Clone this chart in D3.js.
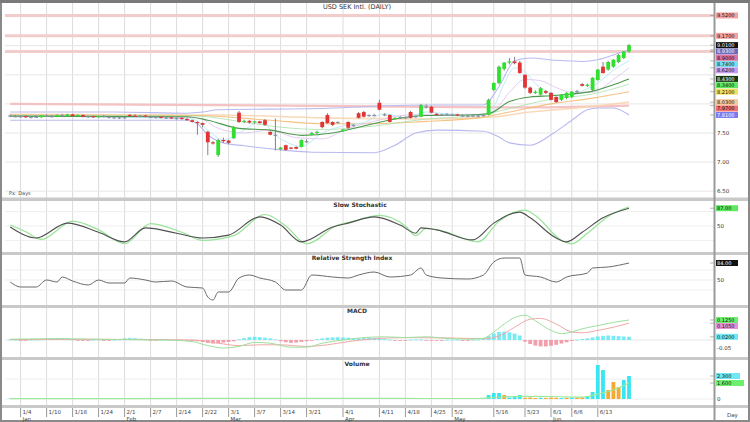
<!DOCTYPE html>
<html><head><meta charset="utf-8">
<script src="https://cdn.jsdelivr.net/npm/d3@7"></script>
<style>body{margin:0;background:#fff}svg{display:block;font-family:"DejaVu Sans",sans-serif}</style>
</head><body><svg id="c" width="750" height="422"></svg>
<script>
// ---------------- DATA ----------------
const title = "USD SEK Intl. (DAILY)";
// [open, high, low, close] per trading day
const ohlc = [
[7.80,7.82,7.77,7.79],[7.79,7.81,7.77,7.78],[7.78,7.80,7.76,7.79],[7.79,7.80,7.76,7.77],[7.77,7.79,7.75,7.78],
[7.78,7.80,7.76,7.77],[7.77,7.81,7.76,7.80],[7.80,7.82,7.78,7.79],[7.79,7.81,7.77,7.78],[7.78,7.82,7.77,7.81],
[7.81,7.83,7.79,7.80],[7.79,7.83,7.78,7.82],[7.82,7.83,7.78,7.79],[7.79,7.82,7.78,7.81],[7.81,7.82,7.77,7.78],
[7.78,7.80,7.76,7.79],[7.79,7.80,7.76,7.77],[7.77,7.80,7.76,7.79],[7.79,7.81,7.77,7.78],[7.78,7.79,7.75,7.77],
[7.77,7.79,7.75,7.76],[7.76,7.78,7.74,7.77],[7.77,7.78,7.75,7.76],[7.81,7.83,7.78,7.79],[7.80,7.82,7.78,7.78],
[7.79,7.81,7.77,7.80],[7.80,7.81,7.77,7.78],[7.78,7.80,7.76,7.77],[7.77,7.79,7.75,7.78],[7.78,7.79,7.75,7.76],
[7.76,7.78,7.74,7.77],[7.77,7.78,7.74,7.75],[7.75,7.77,7.73,7.76],[7.76,7.77,7.73,7.74],[7.74,7.76,7.71,7.72],
[7.72,7.73,7.68,7.69],[7.69,7.70,7.47,7.67],[7.67,7.68,7.60,7.64],[7.52,7.54,7.12,7.34],[7.34,7.36,7.30,7.32],
[7.12,7.40,7.09,7.38],[7.38,7.42,7.33,7.36],[7.37,7.38,7.31,7.33],[7.41,7.62,7.40,7.60],[7.85,7.88,7.67,7.69],
[7.69,7.73,7.67,7.71],[7.71,7.72,7.66,7.68],[7.68,7.71,7.66,7.70],[7.70,7.71,7.66,7.67],[7.72,7.74,7.62,7.64],
[7.52,7.53,7.46,7.47],[7.47,7.75,7.20,7.46],[7.22,7.26,7.20,7.25],[7.29,7.30,7.19,7.21],[7.25,7.26,7.22,7.23],
[7.26,7.27,7.22,7.23],[7.26,7.39,7.25,7.38],[7.36,7.39,7.33,7.35],[7.47,7.52,7.46,7.50],[7.50,7.54,7.48,7.52],
[7.69,7.70,7.58,7.60],[7.81,7.84,7.66,7.67],[7.69,7.70,7.62,7.64],[7.68,7.70,7.66,7.69],[7.53,7.57,7.52,7.56],
[7.69,7.70,7.57,7.59],[7.63,7.65,7.61,7.64],[7.84,7.86,7.75,7.76],[7.86,7.88,7.77,7.78],[7.80,7.82,7.78,7.81],
[7.81,7.83,7.79,7.80],[8.02,8.07,7.89,7.90],[7.82,7.84,7.79,7.81],[7.81,7.82,7.68,7.69],[7.74,7.77,7.73,7.76],
[7.77,7.79,7.75,7.76],[7.76,7.78,7.74,7.77],[7.86,7.88,7.75,7.76],[7.78,7.80,7.76,7.79],[7.78,8.00,7.77,7.98],
[7.96,7.99,7.92,7.95],[7.95,7.97,7.84,7.85],[7.83,7.84,7.80,7.81],[7.81,7.83,7.79,7.82],[7.82,7.84,7.80,7.81],
[7.81,7.83,7.79,7.82],[7.82,7.83,7.79,7.80],[7.80,7.82,7.78,7.79],[7.79,7.81,7.77,7.80],[7.80,7.82,7.78,7.79],
[7.79,7.81,7.77,7.80],[7.80,7.82,7.78,7.81],[7.81,8.09,7.80,8.07],[8.24,8.37,8.22,8.36],[8.36,8.66,8.34,8.64],
[8.60,8.72,8.57,8.71],[8.71,8.79,8.68,8.73],[8.73,8.81,8.68,8.70],[8.71,8.74,8.52,8.53],[8.50,8.51,8.26,8.28],
[8.28,8.30,8.17,8.19],[8.19,8.23,8.17,8.21],[8.16,8.29,8.14,8.27],[8.22,8.24,8.17,8.19],[8.19,8.20,8.06,8.07],
[8.12,8.13,8.02,8.03],[8.07,8.17,8.05,8.16],[8.10,8.20,8.08,8.19],[8.12,8.22,8.10,8.21],[8.21,8.24,8.19,8.22],
[8.34,8.36,8.30,8.31],[8.31,8.35,8.29,8.33],[8.24,8.46,8.22,8.45],[8.41,8.60,8.40,8.59],[8.64,8.72,8.52,8.53],
[8.59,8.74,8.57,8.72],[8.64,8.77,8.62,8.76],[8.72,8.86,8.70,8.84],[8.79,8.91,8.77,8.90],[8.90,9.03,8.88,9.01]
];
const resistance = [9.52, 9.17, 8.90];
// indicator readings [day index, value]
const bbUpper = [[0,7.86],[20,7.86],[34,7.84],[37,7.86],[40,7.90],[50,7.91],[60,7.92],[70,7.96],[80,7.98],[91,7.98],[94,8.30],[97,8.74],[100,8.79],[105,8.75],[110,8.73],[113,8.76],[116,8.84],[119,8.93]];
const bbLower = [[0,7.72],[34,7.72],[36,7.66],[38,7.47],[41,7.33],[45,7.28],[52,7.21],[58,7.17],[70,7.16],[74,7.29],[78,7.50],[82,7.55],[91,7.53],[94,7.43],[96,7.33],[100,7.29],[104,7.47],[108,7.72],[111,7.90],[113,7.93],[116,7.93],[119,7.81]];
const maFast = [[0,7.79],[35,7.74],[38,7.55],[41,7.38],[44,7.50],[48,7.68],[52,7.40],[56,7.27],[60,7.50],[64,7.62],[68,7.68],[72,7.83],[76,7.76],[80,7.86],[84,7.83],[91,7.80],[93,7.95],[95,8.35],[97,8.62],[99,8.55],[101,8.35],[104,8.18],[107,8.12],[110,8.22],[113,8.36],[116,8.58],[119,8.74]];
const ma10 = [[0,7.79],[36,7.76],[40,7.58],[45,7.50],[50,7.55],[55,7.42],[60,7.40],[65,7.58],[70,7.70],[75,7.80],[80,7.82],[90,7.82],[93,7.88],[96,8.20],[99,8.42],[102,8.40],[105,8.28],[108,8.20],[112,8.20],[116,8.42],[119,8.62]];
const ma20 = [[0,7.79],[34,7.78],[38,7.72],[44,7.58],[50,7.55],[56,7.46],[62,7.50],[68,7.62],[74,7.74],[80,7.80],[88,7.81],[92,7.83],[96,8.04],[100,8.12],[104,8.14],[108,8.17],[112,8.22],[116,8.33],[119,8.43]];
const ma30 = [[0,7.80],[36,7.79],[44,7.70],[52,7.60],[60,7.56],[70,7.62],[80,7.74],[90,7.80],[96,7.92],[104,8.08],[112,8.17],[119,8.34]];
const ma50 = [[0,7.81],[36,7.80],[50,7.72],[60,7.66],[70,7.66],[80,7.70],[90,7.76],[96,7.86],[104,8.00],[112,8.10],[119,8.21]];
const ma100 = [[0,7.82],[40,7.81],[60,7.76],[80,7.74],[92,7.77],[100,7.86],[110,7.94],[119,8.03]];
const ma200 = [[0,8.00],[40,7.98],[80,7.95],[100,7.94],[119,7.97]];
const stochK = [[0,48],[5,25],[11,56],[17,37],[22,17],[26,46],[32,35],[37,25],[42,31],[48,69],[52,52],[56,17],[62,48],[65,56],[70,69],[75,52],[78,35],[79,46],[82,42],[89,21],[93,56],[98,79],[100,67],[105,25],[107,17],[110,37],[114,67],[119,87]];
const stochD = [[0,52],[3,38],[6,22],[12,60],[17,42],[22,13],[27,55],[33,37],[37,20],[43,30],[49,74],[53,50],[57,13],[63,52],[66,60],[71,72],[76,50],[78,30],[80,45],[83,40],[90,17],[94,60],[99,83],[101,72],[106,20],[108,13],[111,35],[115,70],[119,90]];
const rsi = [[0,46],[2,36],[5,36],[7,50],[9,46],[10,56],[12,48],[15,40],[17,50],[19,44],[22,44],[23,54],[26,50],[28,46],[31,48],[34,36],[37,34],[38,16],[39,10],[40,26],[42,26],[44,54],[46,60],[48,54],[51,46],[53,30],[56,30],[58,60],[62,56],[65,54],[67,60],[70,66],[73,56],[77,60],[79,74],[80,60],[83,54],[88,52],[91,60],[93,86],[95,94],[98,94],[99,60],[102,56],[105,46],[107,56],[111,64],[112,74],[115,76],[119,84]];
const macdLine = [[0,0.005],[10,0.008],[20,0.003],[30,0.0],[35,-0.01],[38,-0.035],[41,-0.05],[44,-0.04],[47,-0.015],[50,-0.02],[54,-0.045],[57,-0.045],[60,-0.02],[64,0.0],[68,0.015],[72,0.02],[76,0.015],[80,0.02],[84,0.01],[88,0.005],[91,0.01],[93,0.05],[95,0.10],[97,0.14],[99,0.155],[101,0.12],[104,0.06],[106,0.04],[108,0.05],[110,0.07],[113,0.09],[116,0.11],[119,0.125]];
const macdSignal = [[0,0.003],[20,0.004],[35,0.0],[40,-0.02],[44,-0.035],[48,-0.03],[52,-0.03],[57,-0.04],[61,-0.03],[65,-0.01],[70,0.008],[76,0.015],[84,0.013],[91,0.008],[94,0.025],[97,0.08],[100,0.13],[102,0.135],[105,0.10],[108,0.05],[110,0.045],[113,0.06],[116,0.08],[119,0.105]];
const macdHist = [
0.003,0.002,-0.002,-0.003,0.002,0.003,0.004,
0.010,0.012,0.013,0.012,0.010,
0.003,-0.002,-0.004,-0.003,0.002,0.003,-0.002,-0.003,0.002,0.004,
0.010,0.012,0.011,0.008,
0.003,-0.002,-0.003,0.002,0.003,0.002,-0.002,-0.003,-0.004,-0.006,-0.008,
-0.012,-0.018,-0.022,-0.020,-0.016,-0.012,-0.008,0.004,
0.012,0.018,0.020,0.018,0.014,0.010,0.004,
-0.008,-0.014,-0.018,-0.016,-0.012,-0.008,-0.004,
0.006,0.010,0.014,0.016,0.017,0.016,0.014,0.012,0.010,0.012,0.014,0.012,0.010,0.006,
0.003,-0.002,-0.004,-0.003,0.002,0.004,0.003,-0.002,-0.004,-0.003,-0.002,0.002,0.003,0.002,-0.002,-0.003,0.002,0.003,
0.008,0.025,0.040,0.050,0.052,0.048,0.040,0.028,
-0.010,-0.025,-0.035,-0.040,-0.040,-0.036,-0.030,-0.022,-0.014,-0.006,
0.002,0.006,0.010,
0.016,0.022,0.026,0.028,0.026,0.024,0.022,0.020];
const volume = [
40,30,50,35,45,30,40,55,35,40,30,45,50,35,40,30,25,40,35,45,30,40,35,50,45,30,35,40,30,25,
35,40,30,45,50,60,80,70,90,60,55,50,45,40,50,45,40,35,40,45,60,55,50,45,40,60,70,80,75,85,
90,80,70,60,75,65,55,50,45,40,60,55,50,45,40,35,40,45,50,60,55,45,40,35,40,45,50,40,35,45,
50,60,400,600,600,400,150,300,400,120,150,100,130,110,140,120,100,110,130,150,150,200,700,3400,2900,900,1700,1200,1900,2300];
const volumeDownDays = [95,99,100,101,103,104,105,107,109,110,115,116,117];
const volumeAvg = [[0,40],[40,55],[60,70],[70,60],[80,50],[90,50],[93,150],[98,260],[104,250],[110,180],[113,500],[116,900],[119,1600]];
const tickDays = [2,7,12,17,22,27,32,37,42,47,52,57,64,71,76,81,85,93,99,104,108,113];
const tickLabels = ["1/4","1/10","1/18","1/24","2/1","2/7","2/14","2/22","3/1","3/7","3/14","3/21","4/1","4/11","4/18","4/25","5/2","5/16","5/23","6/1","6/6","6/13"];
const monthLabels = ["Jan","","","","Feb","","","","Mar","","","","Apr","","","","May","","","Jun","",""];
const priceGrid = [6.5,7.0,7.5,8.0,8.5,9.0,9.5];
const priceTickLabels = [6.5,7.0,7.5];

// ---------------- DRAW ----------------
const svg = d3.select("#c");
const PL = 5, PR = 714;
const P = {main:[4,197], stoch:[201,252], rsi:[255,305], macd:[308,357], vol:[360,405]};
const x = d3.scaleLinear().domain([0,119]).range([10.2,629]);
const yP = d3.scaleLinear().domain([6.4,9.7]).range([197,5]);
const yS = d3.scaleLinear().domain([0,100]).range([250,202]);
const yR = d3.scaleLinear().domain([0,100]).range([305,255]);
const yM = d3.scaleLinear().domain([-0.1,0.2]).range([356,308]);
const yV = d3.scaleLinear().domain([0,3900]).range([399,360]);

svg.append("rect").attr("width",750).attr("height",422).attr("fill","#fff");
const defs = svg.append("defs");
Object.entries(P).forEach(([k,[a,b]])=>{
  defs.append("clipPath").attr("id","clip-"+k).append("rect").attr("x",PL).attr("y",a).attr("width",PR-PL).attr("height",b-a);
});

// vertical grid
const grid = svg.append("g");
grid.selectAll("line.v").data(tickDays).join("line")
  .attr("x1",d=>x(d)).attr("x2",d=>x(d)).attr("y1",3).attr("y2",405)
  .attr("stroke","#dcdcdc").attr("stroke-width",1);
grid.selectAll("line.hp").data(priceGrid).join("line")
  .attr("x1",PL).attr("x2",PR).attr("y1",d=>yP(d)).attr("y2",d=>yP(d))
  .attr("stroke","#e6e6e6");
[[yS,[20,50,80]],[yR,[30,50,70]],[yV,[0,2000]]].forEach(([s,vals])=>{
  grid.append("g").selectAll("line").data(vals).join("line")
    .attr("x1",PL).attr("x2",PR).attr("y1",d=>s(d)).attr("y2",d=>s(d)).attr("stroke","#eeeeee");
});
grid.append("line").attr("x1",PL).attr("x2",PR).attr("y1",yM(0)).attr("y2",yM(0)).attr("stroke","#e8e8e8");

// resistance lines
svg.append("g").selectAll("line").data(resistance).join("line")
  .attr("x1",PL).attr("x2",PR).attr("y1",d=>yP(d)).attr("y2",d=>yP(d))
  .attr("stroke","#f3cccc").attr("stroke-width",3);

// main indicator lines
const gMain = svg.append("g").attr("clip-path","url(#clip-main)");
function drawLine(g, data, ys, color, w, op){
  g.append("path").datum(data)
   .attr("d", d3.line().x(d=>x(d[0])).y(d=>ys(d[1])).curve(d3.curveMonotoneX))
   .attr("fill","none").attr("stroke",color).attr("stroke-width",w).attr("opacity",op||1);
}
drawLine(gMain, ma200, yP, "#f4bcbc", 2.2, 0.9);
drawLine(gMain, ma100, yP, "#f7d6b4", 1.6, 0.9);
drawLine(gMain, ma50, yP, "#f3bd73", 1.1, 0.9);
drawLine(gMain, ma30, yP, "#ade0ad", 1, 0.8);
drawLine(gMain, bbUpper, yP, "#b9b9f0", 1.1);
drawLine(gMain, bbLower, yP, "#b9b9f0", 1.1);
drawLine(gMain, ma10, yP, "#e0c6f2", 1, 0.9);
drawLine(gMain, maFast, yP, "#b6e8f4", 1, 0.9);
drawLine(gMain, ma20, yP, "#4c984c", 1.1);

// candles
const cg = gMain.append("g").selectAll("g").data(ohlc).join("g");
const cColor = d => Math.abs(d[3]-d[0]) < 0.015 ? "#8a94aa" : (d[3]>d[0] ? "#2fe02f" : "#e23434");
cg.append("line").attr("x1",(d,i)=>x(i)).attr("x2",(d,i)=>x(i))
  .attr("y1",d=>yP(d[1])).attr("y2",d=>yP(d[2])).attr("stroke","#808080").attr("stroke-width",1);
cg.append("rect").attr("x",(d,i)=>x(i)-1.9).attr("width",3.8)
  .attr("y",d=>yP(Math.max(d[0],d[3])))
  .attr("height",d=>Math.max(1.2, Math.abs(yP(d[0])-yP(d[3]))))
  .attr("fill",cColor);

// stochastic
const gS = svg.append("g").attr("clip-path","url(#clip-stoch)");
drawLine(gS, stochD, yS, "#98e498", 1.2);
drawLine(gS, stochK, yS, "#505050", 1.1);
// RSI
const gR = svg.append("g").attr("clip-path","url(#clip-rsi)");
drawLine(gR, rsi, yR, "#6a6a6a", 1);
// MACD
const gM = svg.append("g").attr("clip-path","url(#clip-macd)");
gM.selectAll("rect").data(macdHist).join("rect")
  .attr("x",(d,i)=>x(i)-1.9).attr("width",3.8)
  .attr("y",d=>Math.min(yM(d),yM(0))).attr("height",d=>Math.max(0.8,Math.abs(yM(d)-yM(0))))
  .attr("fill",d=>d>=0?"#5ee8f2":"#f28c9c").attr("opacity",0.85);
drawLine(gM, macdSignal, yM, "#f0a8a8", 1);
drawLine(gM, macdLine, yM, "#9ee09e", 1);
// Volume
const gV = svg.append("g").attr("clip-path","url(#clip-vol)");
gV.selectAll("rect").data(volume).join("rect")
  .attr("x",(d,i)=>x(i)-1.9).attr("width",3.8)
  .attr("y",d=>yV(d)).attr("height",d=>yV(0)-yV(d))
  .attr("fill",(d,i)=>volumeDownDays.includes(i)?"#f4aa30":"#38e6f2");
drawLine(gV, volumeAvg, yV, "#9ee89e", 1.2);

// separators and frame
const sep = svg.append("g");
[[197.5,201],[252,255],[305,308],[357,360],[405,408]].forEach(([a,b])=>{
  sep.append("rect").attr("x",0).attr("y",a).attr("width",750).attr("height",b-a).attr("fill","#c9c9c9");
});
sep.append("line").attr("x1",PR+0.5).attr("x2",PR+0.5).attr("y1",0).attr("y2",422).attr("stroke","#999").attr("stroke-width",2);
sep.append("rect").attr("x",1).attr("y",1).attr("width",748).attr("height",420)
  .attr("fill","none").attr("stroke","#8a8a8a").attr("stroke-width",2);
sep.append("rect").attr("x",0).attr("y",0).attr("width",750).attr("height",3).attr("fill","#7a7a7a");

// titles
const T = svg.append("g").attr("font-size",6).attr("fill","#333").attr("text-anchor","middle");
T.append("text").attr("x",357).attr("y",9).text(title).attr("font-size",6.5);
T.append("text").attr("x",360).attr("y",207).attr("font-weight","bold").text("Slow Stochastic");
T.append("text").attr("x",352).attr("y",260).attr("font-weight","bold").text("Relative Strength Index");
T.append("text").attr("x",357).attr("y",313).attr("font-weight","bold").text("MACD");
T.append("text").attr("x",357).attr("y",366).attr("font-weight","bold").text("Volume");
svg.append("text").attr("x",9).attr("y",195).attr("font-size",5).attr("fill","#444").text("Px: Days");

// x axis labels
const XA = svg.append("g").attr("font-size",5.5).attr("fill","#444");
XA.selectAll("line").data(tickDays).join("line")
  .attr("x1",d=>x(d)).attr("x2",d=>x(d)).attr("y1",408).attr("y2",417).attr("stroke","#999");
XA.selectAll("text.t").data(tickDays).join("text")
  .attr("x",d=>x(d)+2).attr("y",414).text((d,i)=>tickLabels[i]);
XA.selectAll("text.m").data(tickDays).join("text")
  .attr("x",d=>x(d)+2).attr("y",420.5).text((d,i)=>monthLabels[i]);
svg.append("text").attr("x",727).attr("y",417).attr("font-size",5.5).attr("fill","#444").text("Day");

// right axis labels
function boxes(items, gap){
  items.forEach(d=>d.py=d.y);
  items.sort((a,b)=>a.y-b.y);
  for(let i=1;i<items.length;i++) if(items[i].py < items[i-1].py+gap) items[i].py = items[i-1].py+gap;
  const g = svg.append("g");
  items.forEach(d=>{
    g.append("line").attr("x1",710).attr("x2",714).attr("y1",d.y).attr("y2",d.y).attr("stroke","#888").attr("stroke-width",0.6);
    g.append("rect").attr("x",716).attr("y",d.py-3).attr("width",d.w||22).attr("height",6).attr("fill",d.fill);
    g.append("text").attr("x",717).attr("y",d.py+2).attr("font-size",5).attr("fill",d.tc||"#111").text(d.t);
  });
}
const f4 = d3.format(".4f"), last = a=>a[a.length-1][1];
const lastClose = ohlc[ohlc.length-1][3];
boxes([
  {y:yP(resistance[0]),t:f4(resistance[0]),fill:"#f4a0a0"},
  {y:yP(resistance[1]),t:f4(resistance[1]),fill:"#f4a0a0"},
  {y:yP(lastClose),t:f4(lastClose),fill:"#111",tc:"#fff"},
  {y:yP(last(bbUpper)),t:f4(last(bbUpper)),fill:"#6a6ab8",tc:"#fff"},
  {y:yP(resistance[2]),t:f4(resistance[2]),fill:"#e070a0"},
  {y:yP(last(maFast)),t:f4(last(maFast)),fill:"#78dcf2"},
  {y:yP(last(ma10)),t:f4(last(ma10)),fill:"#c99cf0"},
  {y:yP(last(ma20)),t:f4(last(ma20)),fill:"#123a12",tc:"#fff"},
  {y:yP(last(ma30)),t:f4(last(ma30)),fill:"#5ee85e"},
  {y:yP(last(ma50)),t:f4(last(ma50)),fill:"#f2e060"},
  {y:yP(last(ma100)),t:f4(last(ma100)),fill:"#f8c89a"},
  {y:yP(last(ma200)),t:f4(last(ma200)),fill:"#f07070"},
  {y:yP(last(bbLower)),t:f4(last(bbLower)),fill:"#7a7af0",tc:"#fff"}
], 6.3);
const AX = svg.append("g").attr("font-size",5.5).attr("fill","#333");
priceTickLabels.forEach(v=>AX.append("text").attr("x",717).attr("y",yP(v)+2).text(d3.format(".2f")(v)));
AX.append("text").attr("x",717).attr("y",yS(50)+2).text("50");
AX.append("text").attr("x",717).attr("y",yR(50)+2).text("50");
AX.append("text").attr("x",717).attr("y",yM(-0.05)+2).text("-0.05");
AX.append("text").attr("x",717).attr("y",yV(0)+2).text("0");
const f2 = d3.format(".2f");
boxes([{y:yS(last(stochK)),t:f2(last(stochK)),fill:"#5ee85e"}],6);
boxes([{y:yR(last(rsi)),t:f2(last(rsi)),fill:"#111",tc:"#fff"}],6);
boxes([
  {y:yM(last(macdLine)),t:f4(last(macdLine)),fill:"#6ef06e"},
  {y:yM(last(macdSignal)),t:f4(last(macdSignal)),fill:"#e890d8"},
  {y:yM(macdHist[macdHist.length-1]),t:f4(macdHist[macdHist.length-1]),fill:"#6ee8f4"}
],6);
boxes([
  {y:yV(volume[volume.length-1]),t:d3.format(",")(volume[volume.length-1]),fill:"#6ee8f4",w:24},
  {y:yV(last(volumeAvg)),t:d3.format(",")(last(volumeAvg)),fill:"#6ef06e",w:28}
],6);
</script></body></html>
